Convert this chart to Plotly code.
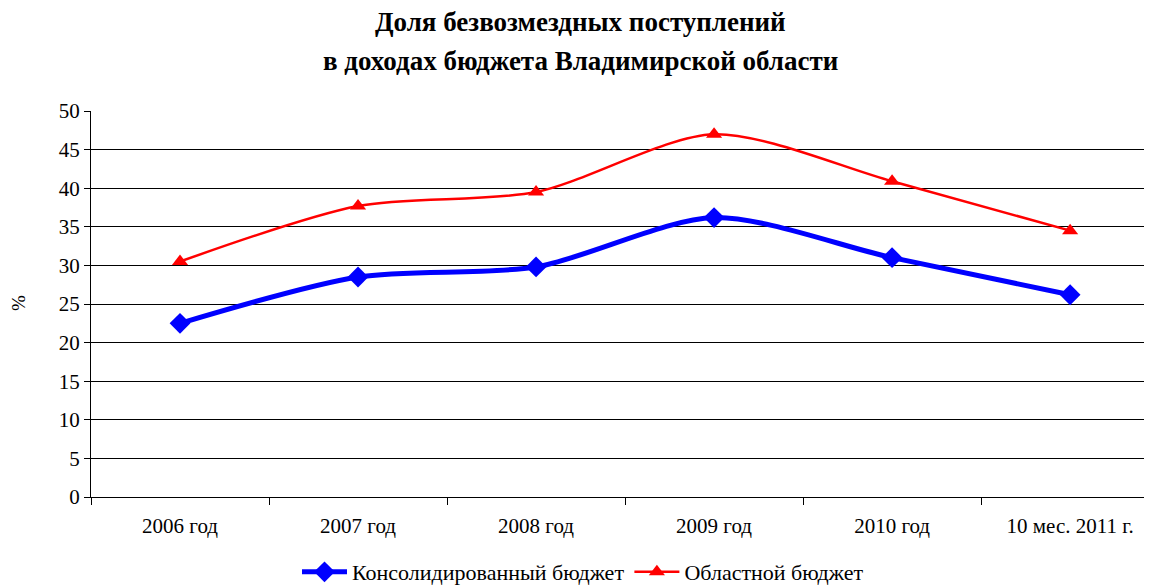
import plotly.graph_objects as go

categories = ["2006 год", "2007 год", "2008 год", "2009 год", "2010 год", "10 мес. 2011 г."]
consolidated = [22.5, 28.5, 29.8, 36.2, 31.0, 26.2]
regional = [30.5, 37.7, 39.5, 47.0, 40.9, 34.5]
y_ticks = [0, 5, 10, 15, 20, 25, 30, 35, 40, 45, 50]

SERIF = "Liberation Serif, Times New Roman, serif"

# page has an 8px body margin; figure coordinates = page - 8
L, T, B_PX, R_PX = 83, 103, 489, 1144
PW, PH = R_PX - L, B_PX - T

def px(xp):
    return (xp - 8 - L) / PW

def py(yp):
    return (B_PX - (yp - 8)) / PH

fig = go.Figure()
fig.add_trace(go.Scatter(
    x=categories, y=consolidated, name="Консолидированный бюджет",
    mode="lines+markers",
    line=dict(color="#0000FF", width=5, shape="spline", smoothing=0.8),
    marker=dict(symbol="diamond", size=16, color="#0000FF"),
))
fig.add_trace(go.Scatter(
    x=categories, y=regional, name="Областной бюджет",
    mode="lines+markers",
    line=dict(color="#FF0000", width=2.5, shape="spline", smoothing=0.8),
    marker=dict(symbol="triangle-up", size=14, color="#FF0000"),
))

fig.update_layout(
    width=1152, height=585, autosize=False,
    margin=dict(l=L, r=1152 - R_PX, t=T, b=585 - B_PX, autoexpand=False),
    paper_bgcolor="white", plot_bgcolor="white",
    font=dict(family=SERIF, size=18, color="black"),
    showlegend=True,
    legend=dict(orientation="h", x=px(583), xanchor="center", xref="paper",
                y=1 - (572 - 8) / 585, yanchor="middle", yref="container",
                font=dict(family=SERIF, size=22),
                itemwidth=45, tracegroupgap=0),
    annotations=[
        dict(text="<b>Доля безвозмездных поступлений</b>",
             xref="paper", yref="paper", x=px(580), y=py(22),
             xanchor="center", yanchor="middle", showarrow=False,
             font=dict(family=SERIF, size=27, color="black")),
        dict(text="<b>в доходах бюджета Владимирской области</b>",
             xref="paper", yref="paper", x=px(580), y=py(61),
             xanchor="center", yanchor="middle", showarrow=False,
             font=dict(family=SERIF, size=27, color="black")),
        dict(text="%", textangle=-90,
             xref="paper", yref="paper", x=px(18), y=py(303),
             xanchor="center", yanchor="middle", showarrow=False,
             font=dict(family=SERIF, size=19, color="black")),
    ],
)

fig.update_xaxes(
    type="category", range=[-0.5, 5.46],
    showline=True, linecolor="black", linewidth=1,
    ticks="outside", tickson="boundaries", ticklen=7, tickcolor="black",
    showgrid=False, tickfont=dict(family=SERIF, size=21),
    tickangle=0, automargin=False, ticklabelstandoff=10,
)
fig.update_yaxes(
    range=[0, 50], tickvals=y_ticks,
    showline=True, linecolor="black", linewidth=1,
    ticks="outside", ticklen=6, tickcolor="black",
    showgrid=True, gridcolor="black", gridwidth=1,
    zeroline=False, automargin=False,
    tickfont=dict(family=SERIF, size=21),
)

fig.write_html("out.html")
